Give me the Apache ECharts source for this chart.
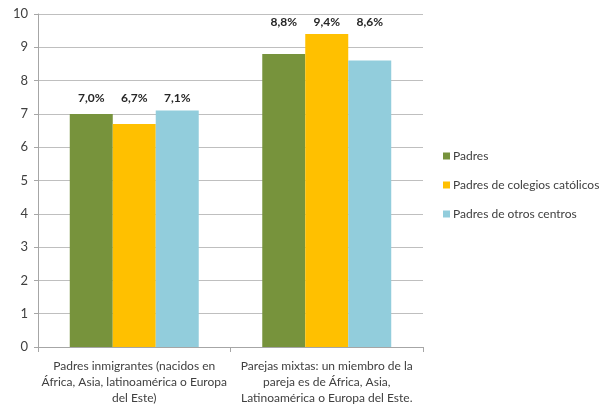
<!DOCTYPE html>
<html><head><meta charset="utf-8">
<script src="https://cdn.jsdelivr.net/npm/echarts@6/dist/echarts.min.js"></script>
<style>html,body{margin:0;padding:0;background:#fff}#c{width:599px;height:415px}</style>
</head><body><div id="c"></div>
<script>
const categories = [
  "Padres inmigrantes (nacidos en\nÁfrica, Asia, latinoamérica o Europa\ndel Este)",
  "Parejas mixtas: un miembro de la\npareja es de África, Asia,\nLatinoamérica o Europa del Este."
];
const seriesNames = ["Padres", "Padres de colegios católicos", "Padres de otros centros"];
const padres = [7.0, 8.8];
const catolicos = [6.7, 9.4];
const otros = [7.1, 8.6];
const yTicks = [0, 10, 1];
const colors = ["#77933C", "#FFC000", "#92CDDC"];
const font = "Lato, 'Liberation Sans', sans-serif";

const groupMax = padres.map((v, i) => Math.max(v, catolicos[i], otros[i]));
const plotH = 415 - 14 - 68;
const pxPer = plotH / (yTicks[1] - yTicks[0]);

const chart = echarts.init(document.getElementById('c'));
const mk = (name, data, color) => ({
  name, type: 'bar',
  data: data.map((v, i) => ({
    value: v,
    label: { offset: [0, -(groupMax[i] - v) * pxPer] }
  })),
  itemStyle: { color },
  barCategoryGap: '33%', barGap: '0%',
  label: {
    show: true, position: 'top', distance: 6,
    formatter: p => p.value.toFixed(1).replace('.', ',') + '%',
    fontFamily: font, fontSize: 12, fontWeight: 'bold', color: '#262626'
  }
});
chart.setOption({
  animation: false,
  textStyle: { fontFamily: font },
  grid: { left: 38, right: 176, top: 14, bottom: 68 },
  legend: {
    orient: 'vertical', left: 443, top: 150, itemGap: 17, padding: 0,
    itemWidth: 7, itemHeight: 7, icon: 'rect',
    textStyle: { fontFamily: font, fontSize: 12, color: '#404040', width: 160, overflow: 'none', padding: [0, 0, 0, -2] },
    data: seriesNames
  },
  xAxis: {
    type: 'category', data: categories,
    axisLine: { lineStyle: { color: '#a6a6a6' } },
    axisTick: { show: true, lineStyle: { color: '#a6a6a6' }, length: 5 },
    axisLabel: { fontFamily: font, fontSize: 12, color: '#404040', lineHeight: 16, margin: 11, interval: 0 }
  },
  yAxis: {
    type: 'value', min: yTicks[0], max: yTicks[1], interval: yTicks[2],
    axisLine: { show: true, lineStyle: { color: '#a6a6a6' } },
    axisTick: { show: true, lineStyle: { color: '#a6a6a6' }, length: 4 },
    splitLine: { lineStyle: { color: '#bfbfbf' } },
    axisLabel: { fontFamily: font, fontSize: 13, color: '#404040', margin: 10 }
  },
  series: [mk(seriesNames[0], padres, colors[0]), mk(seriesNames[1], catolicos, colors[1]), mk(seriesNames[2], otros, colors[2])]
});
</script></body></html>
